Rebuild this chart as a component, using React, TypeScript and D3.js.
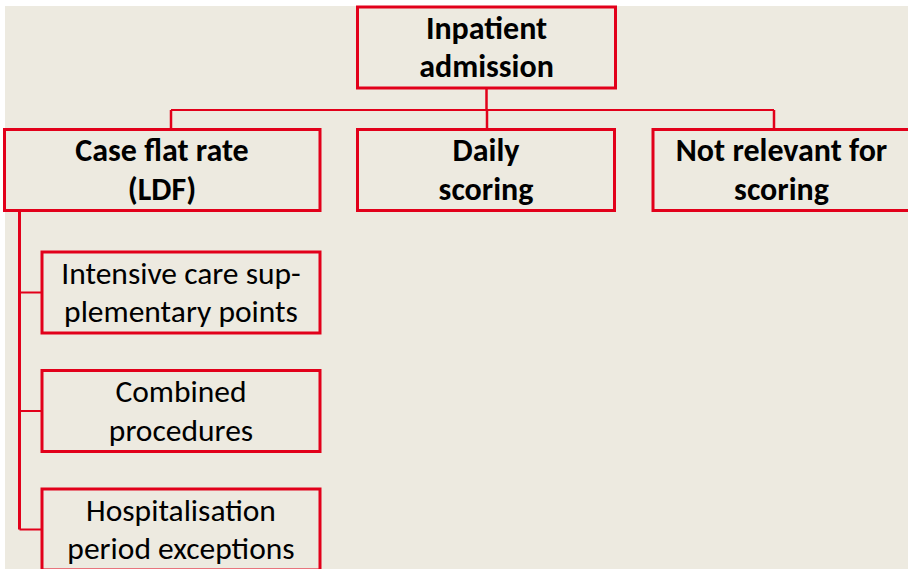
import React from "react";
import * as d3 from "d3";

// labels, one array per line of text
const rootLabel = ["Inpatient", "admission"];
const branchLabels = [
  ["Case flat rate", "(LDF)"],
  ["Daily", "scoring"],
  ["Not relevant for", "scoring"],
];
const leafLabels = [
  ["Intensive care sup-", "plementary points"],
  ["Combined", "procedures"],
  ["Hospitalisation", "period exceptions"],
];

const W = 908;
const H = 569;
const RED = "#e2001a";
const BG = "#edeae0";
const FONT = "Carlito, Lato, 'Open Sans', sans-serif";

// second level: left edge, width (the last one runs off the slide), text centre, drop line
const branchX = [4.5, 357.5, 653];
const branchW = [315.5, 257, 265];
const branchMid = [162, 486, 781.5];
const branchDrop = [171, 487, 774];

export default function App() {
  const boxH = 81;
  const rootY = 7;
  const busY = 110;
  const branchY = 129.5;

  const leafRow = d3
    .scaleLinear()
    .domain([0, leafLabels.length - 1])
    .range([252, 489]);
  const leafX = 42;
  const leafW = 278;
  const trunkX = 19.5;

  const lineY = (top: number, i: number, n: number) =>
    top + boxH / 2 + 10.5 + (i - (n - 1) / 2) * 38.5;

  const rootX = branchX[1];
  const rootW = 258;

  const label = (
    lines: string[],
    cx: number,
    top: number,
    bold: boolean,
    key: string
  ) => (
    <text
      key={key}
      textAnchor="middle"
      fontFamily={FONT}
      fontSize={bold ? 32 : 31.5}
      fontWeight={bold ? 700 : 400}
      fill="#000"
    >
      {lines.map((l, i) => (
        <tspan key={i} x={cx} y={lineY(top, i, lines.length)}>
          {l}
        </tspan>
      ))}
    </text>
  );

  const lastLeafMid = leafRow(leafLabels.length - 1) + boxH / 2;

  return (
    <svg
      width={W}
      height={H}
      style={{ position: "absolute", left: 0, top: 0, background: "#fff" }}
    >
      <rect x={5} y={6} width={W - 5} height={H - 6} fill={BG} />

      {/* connectors */}
      <g stroke={RED} fill="none">
        <line
          x1={rootX + rootW / 2}
          x2={rootX + rootW / 2}
          y1={rootY + boxH}
          y2={busY}
          strokeWidth={2.5}
        />
        <line
          x1={d3.min(branchDrop)!}
          x2={d3.max(branchDrop)!}
          y1={busY}
          y2={busY}
          strokeWidth={2}
        />
        {branchDrop.map((x, i) => (
          <line key={i} x1={x} x2={x} y1={busY} y2={branchY} strokeWidth={2.5} />
        ))}
        <line
          x1={trunkX}
          x2={trunkX}
          y1={branchY + boxH}
          y2={lastLeafMid}
          strokeWidth={3}
        />
        {leafLabels.map((_, i) => (
          <line
            key={i}
            x1={trunkX}
            x2={leafX}
            y1={leafRow(i) + boxH / 2}
            y2={leafRow(i) + boxH / 2}
            strokeWidth={2}
          />
        ))}
      </g>

      {/* boxes */}
      <g stroke={RED} strokeWidth={3} fill="none">
        <rect x={rootX} y={rootY} width={rootW} height={boxH} />
        {branchLabels.map((_, i) => (
          <rect
            key={i}
            x={branchX[i]}
            y={branchY}
            width={branchW[i]}
            height={boxH}
          />
        ))}
        {leafLabels.map((_, i) => (
          <rect key={i} x={leafX} y={leafRow(i)} width={leafW} height={boxH} />
        ))}
      </g>

      {/* text */}
      {label(rootLabel, rootX + rootW / 2, rootY, true, "root")}
      {branchLabels.map((l, i) =>
        label(l, branchMid[i], branchY, true, "b" + i)
      )}
      {leafLabels.map((l, i) =>
        label(l, leafX + leafW / 2, leafRow(i), false, "l" + i)
      )}
    </svg>
  );
}
